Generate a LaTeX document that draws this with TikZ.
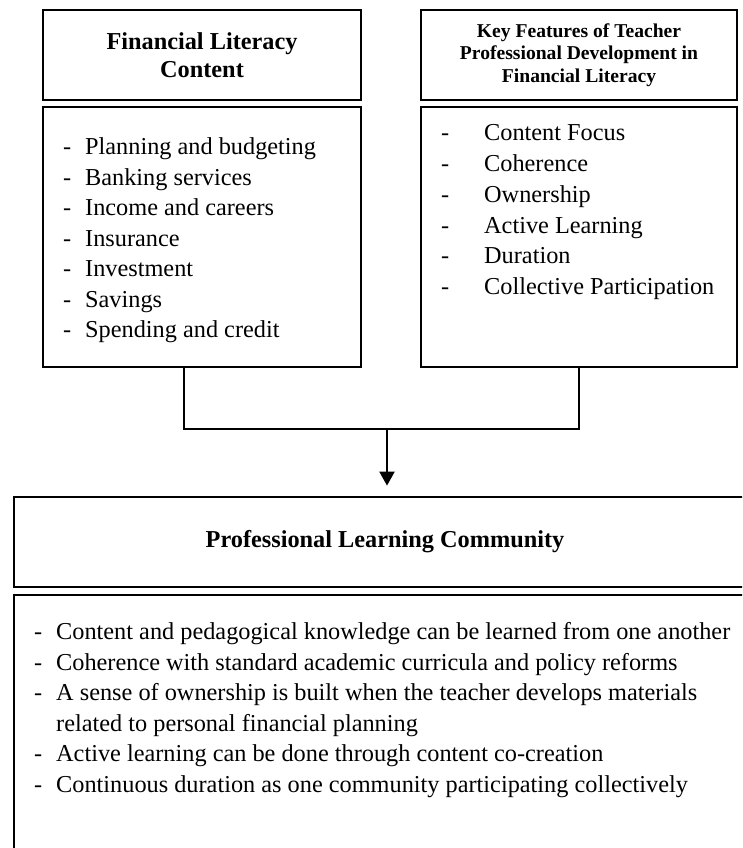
\documentclass[tikz,border=0pt]{standalone}
\usepackage{fontspec}
\setmainfont{Liberation Serif}
\usetikzlibrary{arrows.meta,positioning}
\newcommand{\dashline}[2][22pt]{\makebox[#1][l]{-}#2}

\begin{document}
\begin{tikzpicture}[x=1pt,y=-1pt,head/.style={draw,line width=2.2pt,align=center,font=\bfseries\fontsize{24.3}{28}\selectfont,inner sep=0pt},body/.style={draw,line width=2.2pt,inner sep=0pt},items/.style={align=left,inner sep=0pt,anchor=north west,font=\fontsize{24.3}{30.5}\selectfont},link/.style={line width=2.2pt},flow/.style={-{Triangle[width=15pt,length=14pt]},line width=2.2pt}]
\clip (0,0) rectangle (742,848);
% two source boxes
\node[head,minimum width=318pt,minimum height=90pt] (lhead) at (202,55) {Financial Literacy\\Content};
\node[body,minimum width=318pt,minimum height=260pt] (lbody) at (202,237) {};
\node[items] (llist) at (63,137.5) {\dashline{Planning and budgeting}\\\dashline{Banking services}\\\dashline{Income and careers}\\\dashline{Insurance}\\\dashline{Investment}\\\dashline{Savings}\\\dashline{Spending and credit}};
\node[head,minimum width=316pt,minimum height=90pt,font=\bfseries\fontsize{19.6}{22.5}\selectfont] (rhead) at (579,55) {Key Features of Teacher\\Professional Development in\\Financial Literacy};
\node[body,minimum width=316pt,minimum height=260pt] (rbody) at (579,237) {};
\node[items,font=\fontsize{24.3}{30.8}\selectfont] (rlist) at (441,124.5) {\dashline[43pt]{Content Focus}\\\dashline[43pt]{Coherence}\\\dashline[43pt]{Ownership}\\\dashline[43pt]{Active Learning}\\\dashline[43pt]{Duration}\\\dashline[43pt]{Collective Participation}};
% community
\node[head,line width=2.8pt,minimum width=742pt,minimum height=90pt] (phead) at (385,542) {Professional Learning Community};
\node[body,line width=2.8pt,minimum width=742pt,minimum height=285pt] (pbody) at (385,737.5) {};
\node[items] (plist) at (34,622.5) {\dashline{Content and pedagogical knowledge can be learned from one another}\\\dashline{Coherence with standard academic curricula and policy reforms}\\\dashline{A sense of ownership is built when the teacher develops materials}\\\hspace*{22pt}related to personal financial planning\\\dashline{Active learning can be done through content co-creation}\\\dashline{Continuous duration as one community participating collectively}};
\coordinate (join) at (387,429);
\draw[link] ([xshift=-18pt]lbody.south) |- (join) -| (rbody.south);
\draw[flow,shorten >=10pt] (join) -- (join |- phead.north);
\end{tikzpicture}
\end{document}
